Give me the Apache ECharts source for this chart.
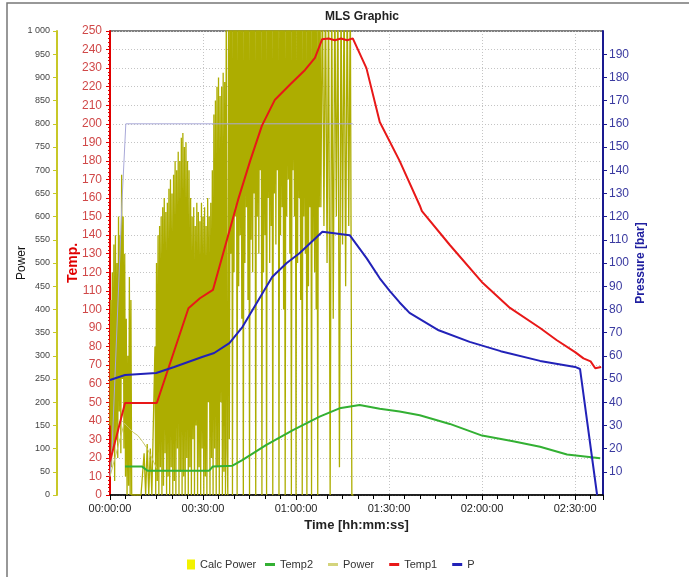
<!DOCTYPE html>
<html>
<head>
<meta charset="utf-8">
<script src="https://cdn.jsdelivr.net/npm/echarts@6/dist/echarts.min.js"></script>
<style>html,body{margin:0;padding:0;background:#fff;}#c{width:689px;height:577px;}</style>
</head>
<body>
<div id="c"></div>
<script>
// time in minutes
const xTickInterval = 30;
const legendNames = ['Calc Power', 'Temp2', 'Power', 'Temp1', 'P'];

const temp1 = [[0,18],[4.85,49.6],[15.1,49.6],[25.3,100.6],[29,106],[33.2,110.5],[41.3,159],[45.2,180],[49,199],[53.2,213],[58,221],[62.9,229],[66.1,235.5],[68.4,245.5],[70.5,246],[72.5,245],[74.5,246],[76.5,245],[78.3,246],[82.7,230],[87,201],[93.4,180],[99.9,156],[100.6,153],[109.6,134.7],[119.9,114.8],[129,100.8],[138.7,90],[144,83.5],[150,77],[152.7,73.6],[155,72],[156.5,68.3],[158.4,69]];

const temp2 = [[4.85,15.3],[10.4,15.3],[12.1,13.1],[32,13.1],[33.1,15.3],[39.5,15.8],[42.8,18.9],[50.3,26.9],[59,35],[67.6,42.2],[74,46.7],[80.5,48.5],[87,46.5],[93.4,45],[99.9,43],[109.6,38.3],[120,32],[130,29],[138.7,26],[147.4,21.8],[158.1,19.8]];

const pressure = [[0,49.6],[4.85,51.7],[14.9,52.6],[20.7,55.2],[29.7,59.5],[33.6,61.2],[38.5,65.5],[42.7,72.4],[47.5,83.2],[52.3,94],[56.9,99.9],[61.1,104.2],[68.5,113.5],[77.3,112],[82.8,102],[87,93.4],[90.2,88],[93.4,83],[96.6,78.5],[106,71],[116,66],[126,62],[138.7,57.8],[150,55.2],[151.6,54.3],[157.1,0]];

const setpoint = [[0,10],[0.7,26],[3.9,159],[5.1,200],[78.3,200]];

const calcPower = [[0,40],[4.6,155],[6,145],[7.5,135],[9,128],[10.5,115],[12,100],[13.5,80],[15,58]];

const power = [
[0,150],[0.25,420],[0.5,60],[0.75,480],[1,100],[1.25,540],[1.5,30],[1.75,560],[2,120],[2.25,500],[2.5,80],[2.75,600],[3,180],[3.25,560],[3.5,90],[3.75,690],[4,250],[4.25,600],[4.5,100],[4.75,520],[5,40],[5.25,380],[5.5,0],[5.75,300],[6,20],[6.25,470],[6.5,0],[6.75,420],[7,0],
[7.5,0],[8,0],[8.5,0],[9,0],[9.5,0],[10,0],[10.5,0],[11,90],[11.5,0],[12,110],[12.5,0],[13,100],[13.5,0],[14,0],
[14.5,320],[14.75,0],[15,500],[15.25,30],[15.5,560],[15.75,0],[16,580],[16.25,60],[16.5,600],[16.75,0],[17,620],[17.25,20],[17.5,640],[17.75,90],[18,610],[18.25,0],[18.5,630],[18.75,40],[19,660],[19.25,0],[19.5,680],[19.75,60],[20,650],[20.25,0],[20.5,690],[20.75,30],[21,720],[21.25,0],[21.5,700],[21.75,100],[22,740],[22.25,0],[22.5,720],[22.75,50],[23,770],[23.25,0],[23.5,780],[23.75,40],[24,750],[24.25,0],[24.5,760],[24.75,80],[25,720],[25.25,0],[25.5,700],[25.75,60],[26,640],[26.25,0],
[26.5,600],[26.75,120],[27,620],[27.25,0],[27.5,580],[27.75,150],[28,630],[28.25,0],[28.5,610],[28.75,60],[29,590],[29.25,0],[29.5,630],[29.75,100],[30,600],[30.25,0],[30.5,620],[30.75,40],[31,580],[31.25,0],[31.5,640],[31.75,200],[32,600],[32.25,0],[32.5,630],[32.75,80],[33,700],[33.25,0],
[33.5,820],[33.75,100],[34,850],[34.25,0],[34.5,880],[34.75,60],[35,900],[35.25,0],[35.5,860],[35.75,200],[36,880],[36.25,0],[36.5,910],[36.75,50],[37,890],[37.25,0],[37.5,1100],[37.75,100],
[38,0],[38.25,1100],[38.5,120],[38.75,1100],[39,520],[39.25,1100],[39.5,0],[39.75,1100],[40,480],[40.25,1100],[40.5,600],[40.75,1100],[41,0],[41.25,1100],[41.5,450],[41.75,1100],[42,560],[42.25,1100],[42.5,380],[42.75,1100],[43,0],[43.25,1100],[43.5,500],[43.75,1100],[44,620],[44.25,1100],[44.5,420],[44.75,1100],[45,0],[45.25,1100],[45.5,550],[45.75,1100],[46,480],[46.25,1100],[46.5,650],[46.75,1100],[47,0],[47.25,1100],[47.5,600],[47.75,1100],[48,520],[48.25,1100],[48.5,700],[48.75,1100],[49,0],[49.25,1100],[49.5,480],[49.75,1100],[50,560],[50.25,1100],[50.5,0],[50.75,1100],[51,640],[51.25,1100],[51.5,500],[51.75,1100],[52,580],[52.25,1100],[52.5,0],[52.75,1100],[53,650],[53.25,1100],[53.5,540],[53.75,1100],[54,700],[54.25,1100],[54.5,0],[54.75,1100],[55,560],[55.25,1100],[55.5,620],[55.75,1100],[56,400],[56.25,1100],[56.5,0],[56.75,1100],[57,600],[57.25,1100],[57.5,680],[57.75,1100],[58,520],[58.25,1100],[58.5,0],[58.75,1100],[59,700],[59.25,1100],[59.5,600],[59.75,1100],[60,0],[60.25,1100],[60.5,500],[60.75,1100],[61,640],[61.25,1100],[61.5,420],[61.75,1100],[62,0],[62.25,1100],[62.5,600],[62.75,1100],[63,520],[63.25,1100],[63.5,0],[63.75,1100],[64,450],[64.25,1100],[64.5,620],[64.75,1100],[65,0],[65.25,1100],[65.5,550],[65.75,1100],[66,480],[66.25,1100],[66.5,400],[66.75,1100],[67,0],[67.25,1100],[67.5,620],[67.75,1100],
[68,620],[68.5,1100],[69,580],[69.5,1100],[70,500],[70.5,1100],[71,0],[71.5,1100],[72,380],[72.5,1100],[73,600],[73.5,1100],[74,60],[74.5,1100],[75,540],[75.5,1100],[76,450],[76.5,1100],[77,580],[77.5,1100],[78,0],[78.5,0]
];

function pad(n){return (n<10?'0':'')+n;}
function fmtTime(m){const s=Math.round(m*60);const h=Math.floor(s/3600),mi=Math.floor((s%3600)/60),se=s%60;return pad(h)+':'+pad(mi)+':'+pad(se);}

const FONT = '"Liberation Sans", Arial, sans-serif';
const chart = echarts.init(document.getElementById('c'), null, {renderer:'canvas'});
chart.setOption({
  animation:false,
  textStyle:{fontFamily:FONT},
  title:{text:'MLS Graphic', left:357, top:6, textAlign:'center', textStyle:{fontSize:12, fontWeight:'bold', color:'#222', fontFamily:FONT}},
  graphic:[{type:'rect', shape:{x:7,y:3,width:700,height:600}, style:{fill:'none', stroke:'#777', lineWidth:1.5}, silent:true}],
  grid:{left:110, right:86, top:31, bottom:82, outerBoundsMode:'none', containLabel:false, show:true, borderColor:'#000', borderWidth:1, backgroundColor:'transparent'},
  legend:[
    {left:187, top:559, padding:0, itemWidth:8, itemHeight:10, icon:'rect', textStyle:{fontSize:11, color:'#333', fontFamily:FONT},
     data:[{name:'Calc Power', itemStyle:{color:'#f2f200'}}]},
    {left:265, top:559, padding:0, itemWidth:10, itemHeight:3, itemGap:15, icon:'rect', textStyle:{fontSize:11, color:'#333', width:50, fontFamily:FONT},
     data:[{name:'Temp2', itemStyle:{color:'#33b033'}},{name:'Power', itemStyle:{color:'#d4d47c'}},{name:'Temp1', itemStyle:{color:'#e81818'}},{name:'P', itemStyle:{color:'#2222b8'}}]}
  ],
  xAxis:{type:'value', min:0, max:159, interval:xTickInterval,
    axisLine:{lineStyle:{color:'#000', width:1.5}},
    axisTick:{show:true, length:5, lineStyle:{color:'#000'}},
    minorTick:{show:true, splitNumber:6, length:4, lineStyle:{color:'#000'}},
    splitLine:{show:true, lineStyle:{type:[1,2], color:'#c4c4c4'}},
    axisLabel:{formatter:fmtTime, showMaxLabel:false, fontSize:11, color:'#222', margin:8},
    name:'Time [hh:mm:ss]', nameLocation:'middle', nameGap:24, nameMoveOverlap:false,
    nameTextStyle:{fontSize:13, fontWeight:'bold', color:'#222'}},
  yAxis:[
    {type:'value', position:'left', min:0, max:250, interval:10,
     axisLine:{show:true, lineStyle:{color:'#e00000', width:2}},
     axisTick:{show:true, length:4, lineStyle:{color:'#e00000'}},
     minorTick:{show:true, splitNumber:5, length:2, lineStyle:{color:'#e00000'}},
     axisLabel:{color:'#d04848', fontSize:12, margin:8},
     splitLine:{show:true, lineStyle:{type:[1,2], color:'#c4c4c4'}},
     name:'Temp.', nameLocation:'middle', nameGap:30, nameMoveOverlap:false,
     nameTextStyle:{color:'#e00000', fontWeight:'bold', fontSize:14}},
    {type:'value', position:'left', offset:53, min:0, max:1000, interval:50,
     axisLine:{show:true, lineStyle:{color:'#c8c828', width:2}},
     axisTick:{show:true, length:4, lineStyle:{color:'#c8c828'}},
     axisLabel:{color:'#444', fontSize:9, margin:7, formatter:v=>v===1000?'1 000':String(v)},
     splitLine:{show:false},
     name:'Power', nameLocation:'middle', nameGap:29, nameMoveOverlap:false,
     nameTextStyle:{color:'#111', fontSize:12}},
    {type:'value', position:'right', min:0, max:200, interval:10,
     axisLine:{show:true, lineStyle:{color:'#1a1a90', width:2}},
     axisTick:{show:true, length:4, lineStyle:{color:'#1a1a90'}},
     axisLabel:{color:'#3a3aa0', fontSize:12, margin:6, showMinLabel:false, showMaxLabel:false},
     splitLine:{show:false},
     name:'Pressure [bar]', nameLocation:'middle', nameGap:32, nameMoveOverlap:false,
     nameTextStyle:{color:'#2020a0', fontWeight:'bold', fontSize:12}}
  ],
  series:[
    {name:'Power', type:'line', yAxisIndex:1, data:power, showSymbol:false, color:'#adad00', lineStyle:{width:1.3, color:'#adad00'}, z:1},
    {name:'Setpoint', type:'line', yAxisIndex:0, data:setpoint, showSymbol:false, color:'#a8a8d8', lineStyle:{width:1}, z:2},
    {name:'Calc Power', type:'line', yAxisIndex:1, data:calcPower, showSymbol:false, color:'#f2f200', lineStyle:{width:1, color:'#c6c66a'}, z:2},
    {name:'Temp2', type:'line', yAxisIndex:0, data:temp2, showSymbol:false, color:'#33b033', lineStyle:{width:2}, z:3},
    {name:'Temp1', type:'line', yAxisIndex:0, data:temp1, showSymbol:false, color:'#e81818', lineStyle:{width:2}, z:4},
    {name:'P', type:'line', yAxisIndex:2, data:pressure, showSymbol:false, color:'#2222b8', lineStyle:{width:2}, z:5}
  ]
});
</script>
</body>
</html>
